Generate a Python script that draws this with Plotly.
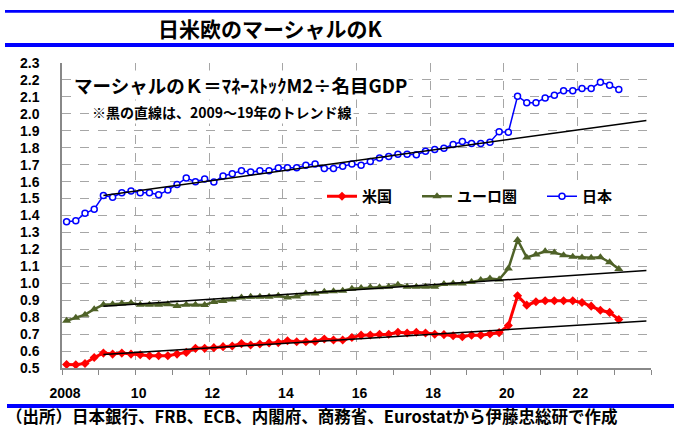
import plotly.graph_objects as go

# ---------------- data ----------------
start_year = 2008
n_quarters = 61  # 2008Q1 .. 2023Q1

us = [0.521, 0.519, 0.527, 0.562, 0.588, 0.582, 0.588, 0.582, 0.578, 0.572,
      0.572, 0.572, 0.582, 0.592, 0.616, 0.616, 0.620, 0.626, 0.630, 0.644,
      0.636, 0.642, 0.648, 0.650, 0.661, 0.655, 0.655, 0.657, 0.671, 0.665,
      0.665, 0.680, 0.694, 0.695, 0.699, 0.699, 0.711, 0.707, 0.711, 0.707,
      0.699, 0.697, 0.690, 0.684, 0.694, 0.694, 0.701, 0.709, 0.751, 0.926,
      0.871, 0.891, 0.897, 0.897, 0.897, 0.897, 0.887, 0.865, 0.841, 0.828,
      0.786]

euro = [0.779, 0.797, 0.815, 0.847, 0.874, 0.876, 0.880, 0.884, 0.874, 0.874,
        0.874, 0.876, 0.866, 0.874, 0.874, 0.872, 0.890, 0.896, 0.904, 0.916,
        0.920, 0.920, 0.920, 0.926, 0.916, 0.922, 0.940, 0.940, 0.950, 0.953,
        0.956, 0.968, 0.972, 0.976, 0.976, 0.980, 0.992, 0.980, 0.980, 0.980,
        0.980, 0.996, 0.998, 0.998, 1.008, 1.020, 1.028, 1.022, 1.087, 1.256,
        1.152, 1.170, 1.189, 1.181, 1.166, 1.156, 1.152, 1.150, 1.154, 1.124,
        1.085]

japan = [1.363, 1.369, 1.413, 1.437, 1.518, 1.508, 1.534, 1.544, 1.534, 1.534,
         1.522, 1.550, 1.583, 1.621, 1.599, 1.615, 1.597, 1.633, 1.647, 1.664,
         1.656, 1.664, 1.664, 1.680, 1.682, 1.682, 1.696, 1.704, 1.678, 1.678,
         1.690, 1.704, 1.696, 1.718, 1.740, 1.748, 1.761, 1.761, 1.759, 1.779,
         1.789, 1.797, 1.819, 1.837, 1.825, 1.825, 1.833, 1.894, 1.892, 2.104,
         2.066, 2.066, 2.094, 2.110, 2.136, 2.136, 2.150, 2.150, 2.187, 2.169,
         2.144]

# trend lines (2009Q1 .. 2023Q4)
trend_x = [2009.125, 2023.875]
trend_us = [0.580, 0.777]
trend_euro = [0.864, 1.075]
trend_japan = [1.518, 1.961]

x_tickvals = [2008, 2010, 2012, 2014, 2016, 2018, 2020, 2022, 2024]
x_ticktext = ["2008", "10", "12", "14", "16", "18", "20", "22", ""]

title_text = "日米欧のマーシャルのK"
note1 = "マーシャルのＫ＝ﾏﾈｰｽﾄｯｸM2÷名目GDP"
note2 = "※黒の直線は、2009～19年のトレンド線"
source_text = "（出所）日本銀行、FRB、ECB、内閣府、商務省、Eurostatから伊藤忠総研で作成"

# ---------------- figure ----------------
qx = [start_year + i / 4 + 0.125 for i in range(n_quarters)]

W, H = 674, 428
L, R, T, B = 62, 23, 63, 60
PW, PH = W - L - R, H - T - B


def px(xp):
    return (xp - L) / PW


def py(yp):
    return (H - B - yp) / PH


CJK = "Noto Sans CJK JP"
RED = "#FF0000"
GREEN = "#4F6228"
BLUE = "#0000FF"

fig = go.Figure()
fig.add_trace(go.Scatter(x=qx, y=us, name="米国", mode="lines+markers",
                         legendwidth=50,
                         line=dict(color=RED, width=3),
                         marker=dict(symbol="diamond", size=7, color=RED)))
fig.add_trace(go.Scatter(x=qx, y=euro, name="ユーロ圏", mode="lines+markers",
                         legendwidth=80,
                         line=dict(color=GREEN, width=2.5),
                         marker=dict(symbol="triangle-up", size=8, color=GREEN)))
fig.add_trace(go.Scatter(x=qx, y=japan, name="日本", mode="lines+markers",
                         legendwidth=70,
                         line=dict(color=BLUE, width=1.5),
                         marker=dict(symbol="circle", size=6, color="white",
                                     line=dict(color=BLUE, width=1.5))))
for ty in (trend_us, trend_euro, trend_japan):
    fig.add_trace(go.Scatter(x=trend_x, y=ty, mode="lines", showlegend=False,
                             line=dict(color="black", width=1.5),
                             hoverinfo="skip"))

grid = dict(gridcolor="#A6A6A6", griddash="dash", gridwidth=1)

fig.update_layout(
    width=W, height=H,
    margin=dict(l=L, r=R, t=T, b=B),
    paper_bgcolor="white", plot_bgcolor="white",
    font=dict(family=CJK, color="black"),
    xaxis=dict(range=[2008, 2024], tickmode="array", tickvals=x_tickvals,
               ticktext=x_ticktext, showgrid=True, **grid,
               showline=True, linecolor="#888888", linewidth=1.5,
               ticks="outside", ticklen=5, tickcolor="#888888",
               minor=dict(tickmode="linear", tick0=2008, dtick=1,
                          ticks="outside", ticklen=5, tickcolor="#888888",
                          showgrid=False),
               tickfont=dict(family="Liberation Sans", size=14, weight="bold"),
               ticklabelstandoff=6, ticklabelshift=3, zeroline=False),
    yaxis=dict(range=[0.5, 2.3], dtick=0.1, tick0=0.5, tickformat=".1f",
               showgrid=True, **grid,
               showline=True, linecolor="#888888", linewidth=1.5,
               ticks="", tickfont=dict(family="Liberation Sans", size=14,
                                       weight="bold"),
               ticklabelstandoff=18, zeroline=False),
    legend=dict(orientation="h", x=px(322), y=py(180), xanchor="left",
                yanchor="top", bgcolor="white",
                font=dict(family=CJK, size=15, weight="bold"),
                traceorder="normal"),
    showlegend=True,
)

# blue rules
for y0, y1, x0 in ((10, 12.7, 5), (43, 47, 5), (404, 408, 7)):
    fig.add_shape(type="rect", xref="paper", yref="paper",
                  x0=px(x0), x1=px(W), y0=py(y1), y1=py(y0),
                  fillcolor=BLUE, line=dict(width=0), layer="above")

fig.add_annotation(text=title_text, xref="paper", yref="paper",
                   x=px(270), y=py(28), xanchor="center", yanchor="middle",
                   showarrow=False, font=dict(family=CJK, size=21, weight="bold"))
fig.add_annotation(text=note1, xref="paper", yref="paper",
                   x=px(72), y=py(85), xanchor="left", yanchor="middle",
                   showarrow=False, bgcolor="white",
                   font=dict(family=CJK, size=18.5, weight="bold"))
fig.add_annotation(text=note2, xref="paper", yref="paper",
                   x=px(90), y=py(112), xanchor="left", yanchor="middle",
                   showarrow=False, bgcolor="white",
                   font=dict(family=CJK, size=14, weight="bold"))
fig.add_annotation(text=source_text, xref="paper", yref="paper",
                   x=px(5), y=py(416), xanchor="left", yanchor="middle",
                   showarrow=False, borderpad=0,
                   font=dict(family=CJK, size=16.5, weight="bold"))

fig.write_html("out.html")
